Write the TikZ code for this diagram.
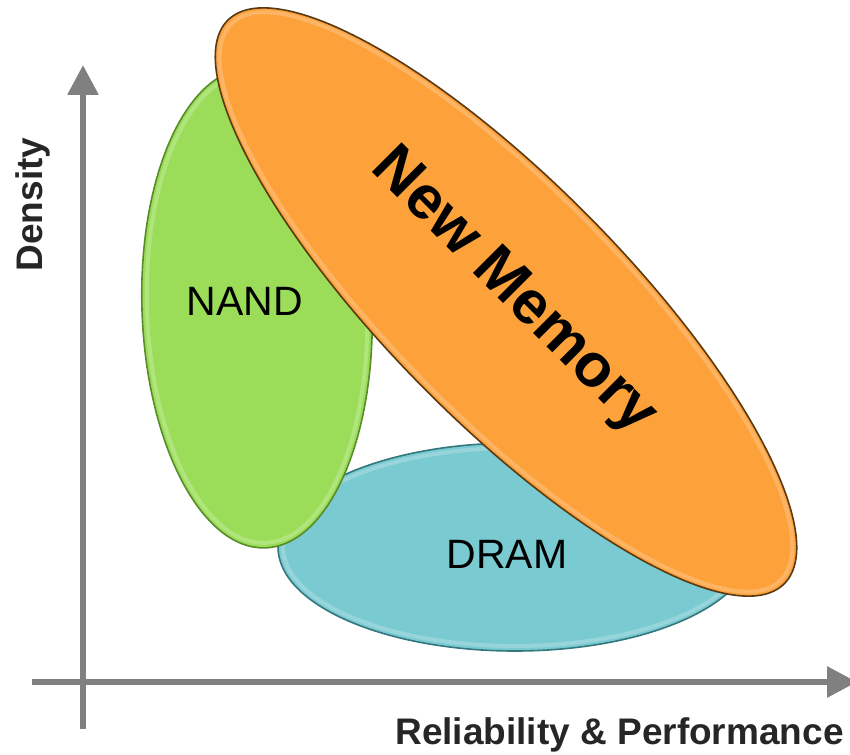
\documentclass[tikz,border=0pt]{standalone}
\usepackage{fontspec}
\setmainfont{Liberation Sans}
\usetikzlibrary{shapes.geometric,arrows.meta}
\definecolor{nandgreen}{RGB}{155,221,89}
\definecolor{nandedge}{RGB}{88,140,40}
\definecolor{dramcyan}{RGB}{122,202,210}
\definecolor{dramedge}{RGB}{52,120,126}
\definecolor{neworange}{RGB}{253,161,58}
\definecolor{newedge}{RGB}{90,58,18}
\definecolor{axisgray}{RGB}{128,128,128}
\definecolor{labeldark}{RGB}{38,38,38}
\begin{document}
\begin{tikzpicture}[x=1pt,y=-1pt,
  blob/.style={ellipse, inner sep=0pt, outer sep=0pt, line width=1.6pt},
  rim/.style={ellipse, inner sep=0pt, outer sep=0pt, draw=white, draw opacity=0.22, line width=4pt},
  axisline/.style={draw=axisgray, line width=6pt, -{Triangle[length=30pt,width=30pt]}},
  axislabel/.style={font=\fontsize{37}{37}\selectfont\bfseries, text=labeldark, inner sep=0pt, anchor=base},
  blobtext/.style={font=\fontsize{41}{41}\selectfont, text=black, inner sep=0pt, anchor=base}]
\useasboundingbox (0,0) rectangle (850,754);

% axes
\coordinate (yfoot) at (83,729);
\coordinate (ytip) at (83,65);
\coordinate (xfoot) at (32,682);
\coordinate (xtip) at (857,682);
\draw[axisline] (yfoot) -- (ytip);
\draw[axisline] (xfoot) -- (xtip);

% DRAM
\node[blob, fill=dramcyan, draw=dramedge, minimum width=474pt, minimum height=208pt] (dram) at (515,547) {};
\node[rim, minimum width=464pt, minimum height=198pt] (dramrim) at (515,547) {};
% NAND
\node[blob, fill=nandgreen, draw=nandedge, minimum width=230pt, minimum height=480pt, rotate=2] (nand) at (257,308) {};
\node[rim, minimum width=220pt, minimum height=470pt, rotate=2] (nandrim) at (257,308) {};
% New Memory
\node[blob, fill=neworange, draw=newedge, minimum width=792pt, minimum height=238pt, rotate=-45.4] (newmem) at (506,302) {};
\node[rim, minimum width=782pt, minimum height=228pt, rotate=-45.4] (newrim) at (506,302) {};

% labels
\node[blobtext] (nandlabel) at (245,315) {NAND};
\node[blobtext] (dramlabel) at (507,568) {DRAM};
\node[font=\fontsize{61}{61}\selectfont\bfseries, text=black, inner sep=0pt, anchor=base, rotate=-45] (newlabel) at (503,303) {New Memory};
\node[axislabel, rotate=90] (ylabel) at (42,204.5) {Density};
\node[axislabel] (xlabel) at (619.5,744) {Reliability \& Performance};
\end{tikzpicture}
\end{document}
